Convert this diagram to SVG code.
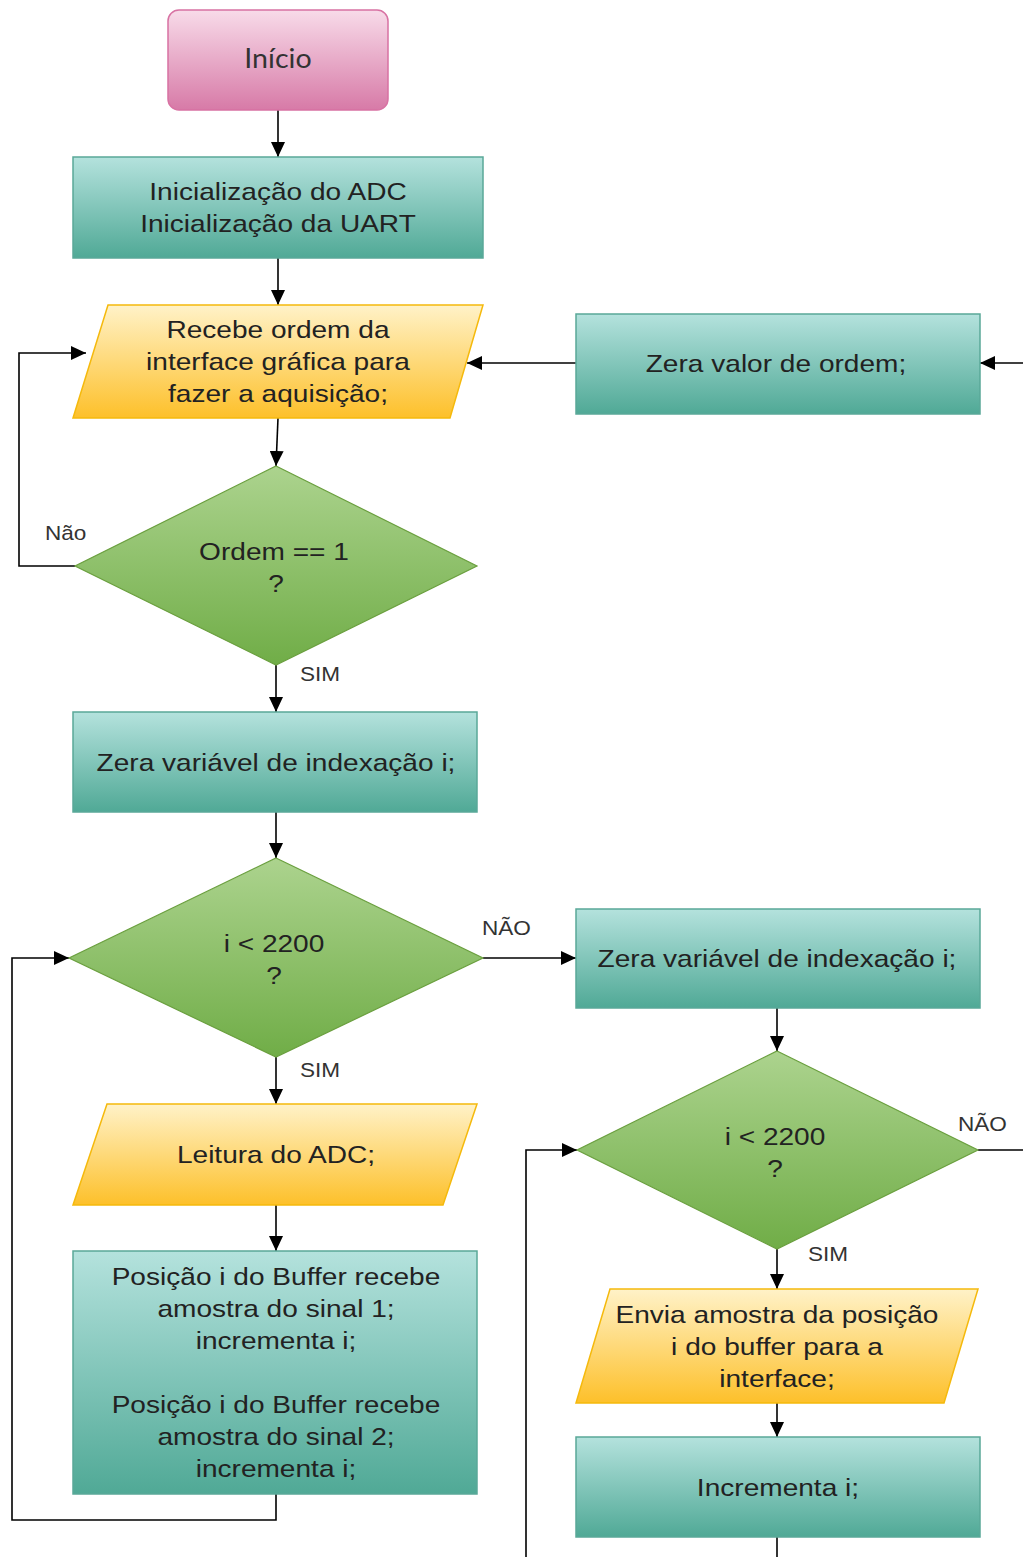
<svg xmlns="http://www.w3.org/2000/svg" width="1023" height="1557" viewBox="0 0 1023 1557">
<defs>
<linearGradient id="gPink" x1="0" y1="0" x2="0" y2="1"><stop offset="0" stop-color="#f8dbe9"/><stop offset="1" stop-color="#d77aa7"/></linearGradient>
<linearGradient id="gTeal" x1="0" y1="0" x2="0" y2="1"><stop offset="0" stop-color="#b4e2dd"/><stop offset="1" stop-color="#50a996"/></linearGradient>
<linearGradient id="gYel" x1="0" y1="0" x2="0" y2="1"><stop offset="0" stop-color="#fff2c8"/><stop offset="1" stop-color="#fdc02a"/></linearGradient>
<linearGradient id="gGrn" x1="0" y1="0" x2="0" y2="1"><stop offset="0" stop-color="#acd38e"/><stop offset="1" stop-color="#70ad47"/></linearGradient>
<marker id="ah" viewBox="0 0 15 14" refX="15" refY="7" markerWidth="15" markerHeight="14" markerUnits="userSpaceOnUse" orient="auto"><path d="M0,0 L15,7 L0,14 z" fill="#000"/></marker>
</defs>
<style>
.t{font-family:"Liberation Sans",Arial,sans-serif;font-size:24px;fill:#222;text-anchor:middle;transform-box:fill-box;transform-origin:center;transform:scaleX(1.17)}
.l{font-family:"Liberation Sans",Arial,sans-serif;font-size:20px;fill:#333;transform-box:fill-box;transform-origin:left;transform:scaleX(1.13)}
.teal{fill:url(#gTeal);stroke:#5aa898;stroke-width:1.5}
.yel{fill:url(#gYel);stroke:#f5b90c;stroke-width:1.5}
.grn{fill:url(#gGrn);stroke:#6a9f3e;stroke-width:1.2}
.c{fill:none;stroke:#000;stroke-width:1.6}
</style>
<g id="connectors">
<path class="c" d="M278,110 V157" marker-end="url(#ah)"/>
<path class="c" d="M278,258 V305" marker-end="url(#ah)"/>
<path class="c" d="M278,418 L276,466" marker-end="url(#ah)"/>
<path class="c" d="M75,566 H19 V353 H86" marker-end="url(#ah)"/>
<path class="c" d="M576,363 H467" marker-end="url(#ah)"/>
<path class="c" d="M1023,363 H980" marker-end="url(#ah)"/>
<path class="c" d="M276,665 V712" marker-end="url(#ah)"/>
<path class="c" d="M276,812 V858" marker-end="url(#ah)"/>
<path class="c" d="M483,958 H576" marker-end="url(#ah)"/>
<path class="c" d="M276,1057 V1104" marker-end="url(#ah)"/>
<path class="c" d="M276,1205 V1251" marker-end="url(#ah)"/>
<path class="c" d="M276,1494 V1520 H12 V958 H69" marker-end="url(#ah)"/>
<path class="c" d="M777,1008 V1051" marker-end="url(#ah)"/>
<path class="c" d="M978,1150 H1023"/>
<path class="c" d="M777,1249 V1289" marker-end="url(#ah)"/>
<path class="c" d="M526,1557 V1150 H577" marker-end="url(#ah)"/>
<path class="c" d="M777,1403 V1437" marker-end="url(#ah)"/>
<path class="c" d="M777,1537 V1557"/>
<text class="l" x="45" y="540">Não</text>
<text class="l" x="300" y="681">SIM</text>
<text class="l" x="482" y="935">NÃO</text>
<text class="l" x="300" y="1077">SIM</text>
<text class="l" x="958" y="1131">NÃO</text>
<text class="l" x="808" y="1261">SIM</text>
</g>
<g id="inicio">
<rect x="168" y="10" width="220" height="100" rx="11" fill="url(#gPink)" stroke="#d872a3" stroke-width="1.5"/>
<text x="278" y="68" style="font-family:Lato,'Open Sans',sans-serif;font-size:27px;fill:#333;text-anchor:middle;transform-box:fill-box;transform-origin:center;transform:scaleX(1.06)">Início</text>
</g>
<g id="init">
<rect class="teal" x="73" y="157" width="410" height="101"/>
<text class="t" x="278" y="200">Inicialização do ADC</text>
<text class="t" x="278" y="232">Inicialização da UART</text>
</g>
<g id="recebe">
<polygon class="yel" points="108,305 483,305 450,418 73,418"/>
<text class="t" x="278" y="338">Recebe ordem da</text>
<text class="t" x="278" y="370">interface gráfica para</text>
<text class="t" x="278" y="402">fazer a aquisição;</text>
</g>
<g id="zeraordem">
<rect class="teal" x="576" y="314" width="404" height="100"/>
<text class="t" x="776" y="372">Zera valor de ordem;</text>
</g>
<g id="ordem">
<polygon class="grn" points="276,466 477,566 276,665 75,566"/>
<text class="t" x="274" y="560">Ordem == 1</text>
<text class="t" x="276" y="592">?</text>
</g>
<g id="zera1">
<rect class="teal" x="73" y="712" width="404" height="100"/>
<text class="t" x="276" y="771">Zera variável de indexação i;</text>
</g>
<g id="cond1">
<polygon class="grn" points="276,858 483,958 276,1057 69,958"/>
<text class="t" x="274" y="952">i &lt; 2200</text>
<text class="t" x="274" y="984">?</text>
</g>
<g id="zera2">
<rect class="teal" x="576" y="909" width="404" height="99"/>
<text class="t" x="777" y="967">Zera variável de indexação i;</text>
</g>
<g id="leitura">
<polygon class="yel" points="107,1104 477,1104 443,1205 73,1205"/>
<text class="t" x="276" y="1163">Leitura do ADC;</text>
</g>
<g id="buffer">
<rect class="teal" x="73" y="1251" width="404" height="243"/>
<text class="t" x="276" y="1285">Posição i do Buffer recebe</text>
<text class="t" x="276" y="1317">amostra do sinal 1;</text>
<text class="t" x="276" y="1349">incrementa i;</text>
<text class="t" x="276" y="1413">Posição i do Buffer recebe</text>
<text class="t" x="276" y="1445">amostra do sinal 2;</text>
<text class="t" x="276" y="1477">incrementa i;</text>
</g>
<g id="cond2">
<polygon class="grn" points="777,1051 978,1150 777,1249 577,1150"/>
<text class="t" x="775" y="1145">i &lt; 2200</text>
<text class="t" x="775" y="1177">?</text>
</g>
<g id="envia">
<polygon class="yel" points="610,1289 978,1289 944,1403 576,1403"/>
<text class="t" x="777" y="1323">Envia amostra da posição</text>
<text class="t" x="777" y="1355">i do buffer para a</text>
<text class="t" x="777" y="1387">interface;</text>
</g>
<g id="incrementa">
<rect class="teal" x="576" y="1437" width="404" height="100"/>
<text class="t" x="778" y="1496">Incrementa i;</text>
</g>
</svg>
